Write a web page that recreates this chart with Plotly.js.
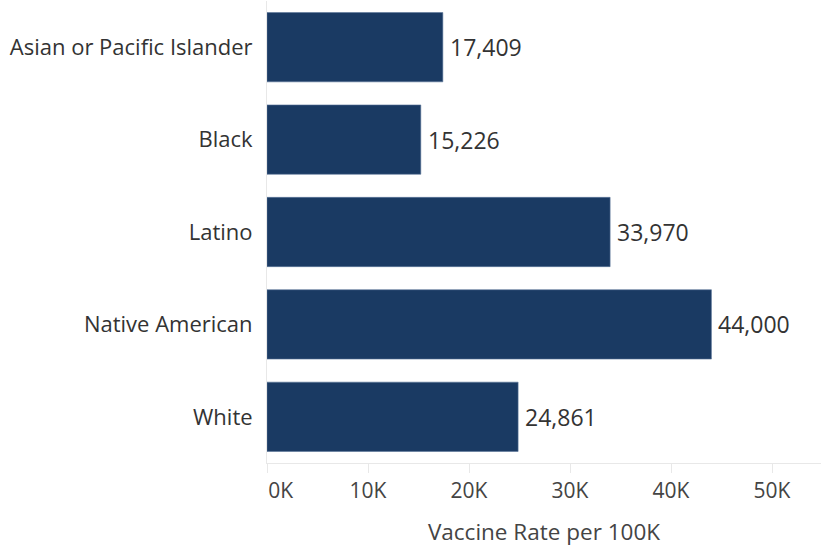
<!DOCTYPE html>
<html>
<head>
<meta charset="utf-8">
<script src="https://cdn.plot.ly/plotly-3.0.1.min.js"></script>
<style>html,body{margin:0;padding:0;background:#fff;}#chart{width:821px;height:547px;}</style>
</head>
<body>
<div id="chart"></div>
<script>
var categories = ["Asian or Pacific Islander", "Black", "Latino", "Native American", "White"];
var values = [17409, 15226, 33970, 44000, 24861];
var tickValues = [0, 10000, 20000, 30000, 40000, 50000];
var tickLabels = ["\u00a0\u00a0\u00a0\u00a0\u00a00K", "10K", "20K", "30K", "40K", "50K"];
var axisTitle = "Vaccine Rate per 100K";

var FONT = "Open Sans, Noto Sans, sans-serif";

var trace = {
  type: "bar",
  orientation: "h",
  x: values,
  y: categories,
  marker: {color: "#1a3a63", line: {color: "#5a7598", width: 0.6}},
  hoverinfo: "none"
};

var annotations = values.map(function (v, i) {
  return {
    x: v, y: categories[i], xref: "x", yref: "y",
    text: v.toLocaleString("en-US"),
    showarrow: false, xanchor: "left", xshift: 5,
    font: {family: FONT, size: 23, color: "#333333"}
  };
});

var layout = {
  width: 821, height: 547,
  margin: {l: 267, r: 0, t: 1, b: 84},
  paper_bgcolor: "#ffffff", plot_bgcolor: "#ffffff",
  showlegend: false,
  bargap: 0.25,
  font: {family: FONT, size: 21, color: "#333333"},
  xaxis: {
    range: [0, 54850],
    tickvals: tickValues, ticktext: tickLabels,
    showgrid: false, zeroline: false,
    showline: true, linecolor: "#e8e8e8", linewidth: 1,
    ticks: "outside", ticklen: 9, tickcolor: "#e8e8e8", tickwidth: 1,
    tickfont: {family: FONT, size: 21, color: "#444444"},
    title: {text: axisTitle, font: {family: FONT, size: 22.5, color: "#444444"}, standoff: 24},
    fixedrange: true
  },
  yaxis: {
    categoryorder: "array", categoryarray: categories.slice().reverse(),
    autorange: true,
    showgrid: false, zeroline: false,
    showline: true, linecolor: "#e8e8e8", linewidth: 1,
    ticks: "outside", ticklen: 9, tickcolor: "rgba(0,0,0,0)",
    tickfont: {family: FONT, size: 22, color: "#333333"},
    fixedrange: true
  },
  annotations: annotations
};

Plotly.newPlot("chart", [trace], layout, {displayModeBar: false, staticPlot: true});
</script>
</body>
</html>
